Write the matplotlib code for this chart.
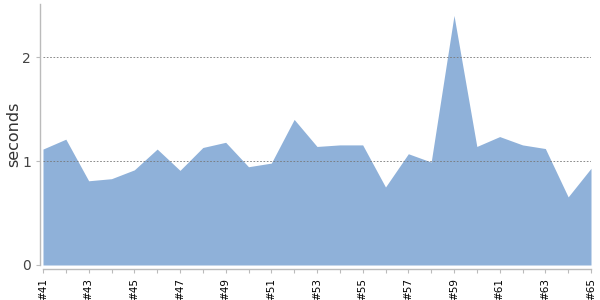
import matplotlib
matplotlib.use("Agg")
import matplotlib.pyplot as plt

builds = ["#%d" % n for n in range(41, 66)]
seconds = [1.115, 1.21, 0.81, 0.83, 0.915, 1.115, 0.91, 1.13, 1.18, 0.945,
           0.98, 1.40, 1.14, 1.155, 1.155, 0.75, 1.07, 0.99, 2.40, 1.14,
           1.235, 1.155, 1.12, 0.655, 0.93]

fig = plt.figure(figsize=(6, 3), dpi=100)
ax = fig.add_axes([43/600, 35/300, 548/600, 261/300])

for s in ["top", "right"]:
    ax.spines[s].set_visible(False)
ax.spines["left"].set_position(("outward", 2.5))
ax.spines["bottom"].set_position(("outward", 3))
for s in ["left", "bottom"]:
    ax.spines[s].set_color("#bbbbbb")
    ax.spines[s].set_linewidth(1.0)

x = list(range(len(builds)))
ax.fill_between(x, 0, seconds, color="#8FB1D9", linewidth=0)
ax.set_xlim(0, len(builds) - 1)
ax.set_ylim(0, 2.51)

for y in [1, 2]:
    ax.axhline(y, color="#777777", linestyle=(0, (2, 2)), linewidth=0.6, zorder=3)

ax.set_yticks([0, 1, 2])
ax.set_yticklabels(["0", "1", "2"], fontsize=10, color="#444444")
ax.set_xticks(x)
ax.set_xticklabels([b if i % 2 == 0 else "" for i, b in enumerate(builds)],
                   fontsize=7.5, color="black")
ax.tick_params(axis="x", length=3, width=0.8, color="#bbbbbb", pad=3, labelrotation=90)
ax.tick_params(axis="y", length=3, width=0.8, color="#bbbbbb", pad=3)

ax.set_ylabel("seconds", fontsize=11.5, color="#333333", labelpad=1, fontweight="medium")
fig.savefig("out.png", dpi=100)
